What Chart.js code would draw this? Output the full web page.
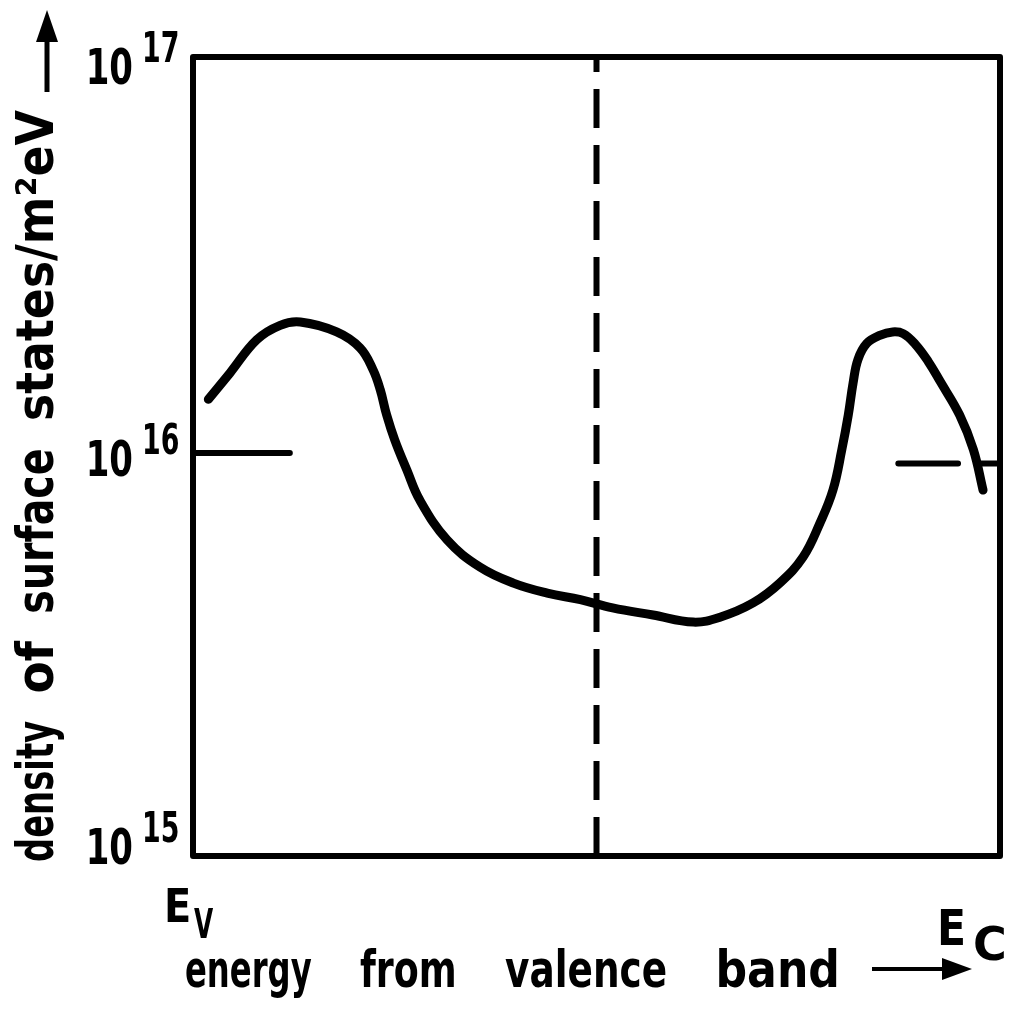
<!DOCTYPE html>
<html><head><meta charset="utf-8">
<script src="https://cdn.jsdelivr.net/npm/chart.js@4"></script>
<style>html,body{margin:0;padding:0;background:#fff}#wrap{width:1021px;height:1017px;position:relative}</style>
</head><body><div id="wrap"><canvas id="c" width="1021" height="1017"></canvas></div>
<script>
// energy as a fraction of the gap (0 = Ev, 1 = Ec)
const energy = [0.019, 0.046, 0.079, 0.108, 0.133, 0.178, 0.207, 0.223, 0.232, 0.240, 0.250, 0.265, 0.281, 0.315, 0.356, 0.397, 0.439, 0.480, 0.520, 0.570, 0.620, 0.653, 0.694, 0.727, 0.756, 0.777, 0.793, 0.804, 0.812, 0.818, 0.824, 0.835, 0.851, 0.867, 0.880, 0.895, 0.911, 0.926, 0.950, 0.967, 0.979];
// density of surface states (m^-2 eV^-1)
const density = [1.39e16, 1.62e16, 1.96e16, 2.13e16, 2.17e16, 2.05e16, 1.87e16, 1.65e16, 1.47e16, 1.27e16, 1.10e16, 9.25e15, 7.78e15, 6.18e15, 5.28e15, 4.82e15, 4.55e15, 4.38e15, 4.18e15, 4.01e15, 3.85e15, 3.96e15, 4.30e15, 4.82e15, 5.60e15, 6.82e15, 8.24e15, 1.04e16, 1.27e16, 1.53e16, 1.75e16, 1.92e16, 2.01e16, 2.05e16, 2.03e16, 1.91e16, 1.73e16, 1.54e16, 1.27e16, 1.04e16, 8.24e15];
// short reference levels near the band edges
const leftLevelX = [0, 0.12];
const leftLevelY = [1.02e16, 1.02e16];
const rightLevelX = [0.874, 0.948, 0.96, 0.975, 1.0];
const rightLevelY = [9.6e15, 9.6e15, null, 9.6e15, 9.6e15];
// mid-gap marker
const midGapX = [0.5, 0.5];
const midGapY = [1e15, 1e17];
// axis
const yTicks = [1e15, 1e16, 1e17];
const yTickBase = ['10', '10', '10'];
const yTickExp = ['15', '16', '17'];
const yTitle = 'density of surface states/m²eV';
const xTitle = 'energy from valence band';
const xEdgeLabels = [['E', 'V'], ['E', 'C']];

const pts = (xs, ys) => xs.map((x, i) => ({x: x, y: ys[i]}));

const FONT = '"DejaVu Sans", sans-serif';
function drawScaled(ctx, s, x, y, size, sx, align, weight) {
  ctx.save();
  ctx.font = (weight || 'bold') + ' ' + size + 'px ' + FONT;
  ctx.translate(x, y);
  ctx.scale(sx, 1);
  ctx.textAlign = align || 'left';
  ctx.textBaseline = 'alphabetic';
  ctx.fillText(s, 0, 0);
  ctx.restore();
}
function drawSpread(ctx, s, size, scales, length) {
  // draw s from (0,0) along +x, each word condensed by its factor, word gaps spread so the text spans `length`
  ctx.font = 'bold ' + size + 'px ' + FONT;
  const words = s.split(' ');
  const widths = words.map((w, i) => ctx.measureText(w).width * scales[i]);
  const total = widths.reduce((a, b) => a + b, 0);
  const gap = (length - total) / (words.length - 1);
  let x = 0;
  words.forEach((w, i) => {
    ctx.save();
    ctx.translate(x, 0);
    ctx.scale(scales[i], 1);
    ctx.fillText(w, 0, 0);
    ctx.restore();
    x += widths[i] + gap;
  });
}

const decor = {
  id: 'decor',
  afterDraw(chart) {
    const ctx = chart.ctx;
    const a = chart.chartArea;
    const ys = chart.scales.y;
    ctx.save();
    ctx.fillStyle = '#000';
    ctx.strokeStyle = '#000';
    // frame
    ctx.lineWidth = 6;
    ctx.lineJoin = 'round';
    ctx.strokeRect(a.left, a.top, a.right - a.left, a.bottom - a.top);
    // y tick labels
    yTicks.forEach((v, i) => {
      let py = ys.getPixelForValue(v);
      py = Math.min(Math.max(py, a.top + 8), a.bottom - 11);
      drawScaled(ctx, yTickBase[i], a.left - 60, py + 19, 50, 0.68, 'right');
      drawScaled(ctx, yTickExp[i], a.left - 51, py - 3, 42, 0.64, 'left');
    });
    // band edge labels
    drawScaled(ctx, xEdgeLabels[0][0], a.left - 29, a.bottom + 66, 47, 0.85, 'left');
    drawScaled(ctx, xEdgeLabels[0][1], a.left + 1, a.bottom + 82, 40, 0.62, 'left');
    drawScaled(ctx, xEdgeLabels[1][0], a.right - 63, a.bottom + 89, 50, 0.85, 'left');
    drawScaled(ctx, xEdgeLabels[1][1], a.right - 27, a.bottom + 104, 46, 1.0, 'left');
    // x title
    ctx.save();
    ctx.translate(185, 987);
    drawSpread(ctx, xTitle, 52, [0.62, 0.7, 0.72, 0.85], 655);
    ctx.restore();
    ctx.lineWidth = 4;
    ctx.beginPath(); ctx.moveTo(872, 969); ctx.lineTo(945, 969); ctx.stroke();
    ctx.beginPath(); ctx.moveTo(972, 969); ctx.lineTo(942, 958); ctx.lineTo(942, 980); ctx.closePath(); ctx.fill();
    // y title
    ctx.save();
    ctx.translate(53, 862);
    ctx.rotate(-Math.PI / 2);
    drawSpread(ctx, yTitle, 52, [0.65, 0.9, 0.76, 0.88], 752);
    ctx.restore();
    ctx.lineWidth = 5;
    ctx.beginPath(); ctx.moveTo(47, 92); ctx.lineTo(47, 35); ctx.stroke();
    ctx.beginPath(); ctx.moveTo(47, 10); ctx.lineTo(36, 42); ctx.lineTo(58, 42); ctx.closePath(); ctx.fill();
    ctx.restore();
  }
};

new Chart(document.getElementById('c'), {
  type: 'scatter',
  data: {
    datasets: [
      {data: pts(energy, density), showLine: true, borderColor: '#000', borderWidth: 9, pointRadius: 0,
       tension: 0.4, borderCapStyle: 'round', borderJoinStyle: 'round', clip: false},
      {data: pts(leftLevelX, leftLevelY), showLine: true, borderColor: '#000', borderWidth: 6, pointRadius: 0,
       borderCapStyle: 'round'},
      {data: pts(rightLevelX, rightLevelY), showLine: true, spanGaps: false, borderColor: '#000', borderWidth: 6,
       pointRadius: 0, borderCapStyle: 'round'},
      {data: pts(midGapX, midGapY), showLine: true, borderColor: '#000', borderWidth: 6, pointRadius: 0,
       borderDash: [39, 17], borderCapStyle: 'butt'}
    ]
  },
  options: {
    responsive: false,
    animation: false,
    events: [],
    layout: {padding: {left: 193, right: 21, top: 57, bottom: 161}},
    plugins: {legend: {display: false}, tooltip: {enabled: false}},
    scales: {
      x: {type: 'linear', min: 0, max: 1, display: false},
      y: {type: 'logarithmic', min: 1e15, max: 1e17, display: false}
    }
  },
  plugins: [decor]
});
</script>
</body></html>
